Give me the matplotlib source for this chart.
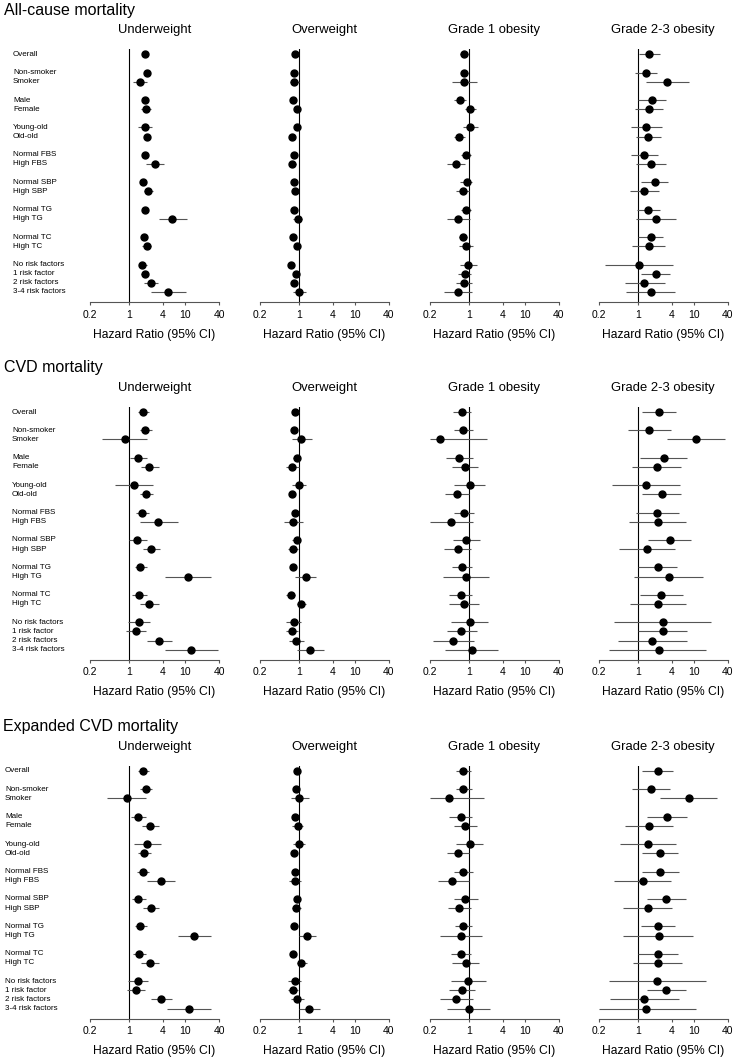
import matplotlib
matplotlib.use("Agg")
import matplotlib.pyplot as plt
from matplotlib.transforms import blended_transform_factory

plt.rcParams['font.family'] = ['Liberation Sans', 'DejaVu Sans']

# row labels and their slots (blank slot between groups)
row_labels = ['Overall', 'Non-smoker', 'Smoker', 'Male', 'Female', 'Young-old', 'Old-old',
              'Normal FBS', 'High FBS', 'Normal SBP', 'High SBP', 'Normal TG', 'High TG',
              'Normal TC', 'High TC', 'No risk factors', '1 risk factor', '2 risk factors',
              '3-4 risk factors']
row_slots = [0, 2, 3, 5, 6, 8, 9, 11, 12, 14, 15, 17, 18, 20, 21, 23, 24, 25, 26]

sections = ['All-cause mortality', 'CVD mortality', 'Expanded CVD mortality']
panels = ['Underweight', 'Overweight', 'Grade 1 obesity', 'Grade 2-3 obesity']
ticks = [0.2, 1, 4, 10, 40]
tick_labels = ['0.2', '1', '4', '10', '40']

##### all-cause mortality
ac_under_hr = [1.93, 2.04, 1.53, 1.90, 2.00, 1.88, 2.09, 1.93, 2.87, 1.80, 2.21, 1.88, 5.84, 1.85, 2.06, 1.70, 1.88, 2.44, 4.96]
ac_under_lo = [1.80, 1.88, 1.16, 1.75, 1.64, 1.43, 1.92, 1.77, 1.98, 1.62, 1.85, 1.72, 3.38, 1.68, 1.70, 1.47, 1.61, 1.85, 2.44]
ac_under_hi = [2.07, 2.21, 2.06, 2.06, 2.44, 2.54, 2.28, 2.10, 4.26, 2.00, 2.68, 2.05, 10.7, 2.04, 2.50, 2.06, 2.21, 3.20, 10.2]

ac_over_hr = [0.84, 0.83, 0.83, 0.78, 0.93, 0.93, 0.75, 0.83, 0.76, 0.81, 0.85, 0.81, 0.97, 0.77, 0.93, 0.73, 0.88, 0.83, 1.01]
ac_over_lo = [0.80, 0.79, 0.69, 0.74, 0.88, 0.86, 0.71, 0.79, 0.67, 0.77, 0.80, 0.77, 0.79, 0.73, 0.86, 0.68, 0.82, 0.77, 0.78]
ac_over_hi = [0.88, 0.87, 1.00, 0.82, 0.98, 1.01, 0.79, 0.87, 0.88, 0.85, 0.90, 0.85, 1.16, 0.81, 1.00, 0.79, 0.95, 0.90, 1.33]

ac_ob1_hr = [0.83, 0.83, 0.83, 0.70, 1.03, 1.06, 0.68, 0.90, 0.59, 0.91, 0.77, 0.88, 0.65, 0.78, 0.88, 0.97, 0.84, 0.81, 0.65]
ac_ob1_lo = [0.69, 0.71, 0.49, 0.55, 0.85, 0.80, 0.55, 0.72, 0.40, 0.70, 0.59, 0.73, 0.41, 0.67, 0.67, 0.69, 0.64, 0.60, 0.36]
ac_ob1_hi = [0.95, 0.97, 1.39, 0.90, 1.35, 1.43, 0.86, 1.10, 0.85, 1.15, 0.99, 1.08, 1.04, 0.93, 1.18, 1.39, 1.10, 1.13, 1.15]

ac_ob23_hr = [1.61, 1.41, 3.29, 1.75, 1.59, 1.41, 1.53, 1.31, 1.68, 1.98, 1.30, 1.51, 2.12, 1.68, 1.55, 1.06, 2.07, 1.30, 1.68]
ac_ob23_lo = [1.06, 0.88, 1.37, 1.01, 0.88, 0.75, 0.91, 0.76, 0.92, 1.15, 0.71, 0.96, 0.93, 1.01, 0.80, 0.26, 1.16, 0.59, 0.62]
ac_ob23_hi = [2.44, 2.21, 8.13, 3.16, 2.83, 2.68, 2.61, 2.30, 3.11, 3.43, 2.40, 2.44, 4.83, 2.83, 2.99, 4.27, 3.67, 2.99, 4.63]

##### CVD mortality
cvd_under_hr = [1.75, 1.95, 0.84, 1.43, 2.30, 1.23, 2.01, 1.68, 3.33, 1.39, 2.44, 1.59, 11.1, 1.49, 2.24, 1.49, 1.31, 3.47, 12.9]
cvd_under_lo = [1.41, 1.55, 0.33, 1.04, 1.64, 0.57, 1.55, 1.31, 1.53, 1.01, 1.73, 1.25, 4.38, 1.10, 1.53, 0.97, 0.88, 2.09, 4.44]
cvd_under_hi = [2.24, 2.54, 2.06, 2.04, 3.38, 2.64, 2.68, 2.24, 7.38, 2.04, 3.57, 2.12, 28.5, 2.09, 3.38, 2.37, 2.01, 5.84, 38.0]

cvd_over_hr = [0.86, 0.83, 1.11, 0.91, 0.76, 0.99, 0.76, 0.85, 0.80, 0.91, 0.80, 0.80, 1.33, 0.71, 1.09, 0.81, 0.74, 0.90, 1.59]
cvd_over_lo = [0.74, 0.76, 0.74, 0.78, 0.59, 0.74, 0.70, 0.78, 0.55, 0.76, 0.65, 0.74, 0.87, 0.60, 0.92, 0.59, 0.58, 0.67, 0.91]
cvd_over_hi = [1.00, 0.90, 1.68, 1.05, 0.99, 1.35, 0.83, 0.93, 1.18, 1.06, 0.98, 0.87, 2.01, 0.85, 1.32, 1.10, 0.95, 1.21, 2.76]

cvd_ob1_hr = [0.76, 0.78, 0.30, 0.68, 0.85, 1.03, 0.61, 0.81, 0.48, 0.90, 0.63, 0.75, 0.90, 0.71, 0.81, 1.03, 0.73, 0.53, 1.12]
cvd_ob1_lo = [0.52, 0.54, 0.20, 0.39, 0.49, 0.55, 0.37, 0.54, 0.20, 0.52, 0.36, 0.50, 0.34, 0.44, 0.45, 0.47, 0.41, 0.23, 0.38]
cvd_ob1_hi = [1.09, 1.18, 2.12, 1.18, 1.45, 1.90, 1.00, 1.24, 1.19, 1.55, 1.09, 1.15, 2.27, 1.15, 1.49, 2.21, 1.37, 1.21, 3.29]

cvd_ob23_hr = [2.40, 1.61, 10.8, 2.87, 2.15, 1.41, 2.64, 2.18, 2.24, 3.67, 1.43, 2.24, 3.52, 2.60, 2.24, 2.75, 2.75, 1.80, 2.34]
cvd_ob23_lo = [1.19, 0.66, 3.33, 1.07, 0.80, 0.34, 1.19, 0.91, 0.69, 1.51, 0.46, 1.00, 0.84, 1.07, 0.72, 0.38, 1.00, 0.45, 0.31]
cvd_ob23_hi = [4.76, 3.88, 36.0, 7.67, 5.77, 5.69, 5.92, 5.31, 7.30, 8.93, 4.57, 5.03, 14.8, 6.34, 7.07, 20.0, 7.50, 7.40, 16.4]

##### expanded CVD mortality
ex_under_hr = [1.78, 1.98, 0.90, 1.45, 2.37, 2.09, 1.85, 1.73, 3.67, 1.45, 2.44, 1.59, 14.2, 1.51, 2.33, 1.45, 1.31, 3.72, 11.6]
ex_under_lo = [1.45, 1.57, 0.41, 1.09, 1.70, 1.21, 1.45, 1.37, 2.06, 1.10, 1.80, 1.28, 7.30, 1.15, 1.64, 0.97, 0.92, 2.44, 4.69]
ex_under_hi = [2.24, 2.54, 2.01, 2.01, 3.43, 3.62, 2.44, 2.24, 6.61, 2.01, 3.43, 2.06, 28.5, 2.01, 3.43, 2.21, 1.95, 5.77, 28.5]

ex_over_hr = [0.91, 0.88, 1.01, 0.87, 0.95, 1.00, 0.81, 0.87, 0.86, 0.92, 0.90, 0.83, 1.37, 0.78, 1.10, 0.84, 0.78, 0.92, 1.53]
ex_over_lo = [0.84, 0.81, 0.71, 0.80, 0.76, 0.78, 0.75, 0.80, 0.66, 0.84, 0.76, 0.77, 0.99, 0.72, 0.94, 0.65, 0.63, 0.72, 0.99]
ex_over_hi = [0.98, 0.95, 1.53, 0.94, 1.18, 1.30, 0.88, 0.94, 1.10, 1.00, 1.07, 0.90, 2.04, 0.85, 1.38, 1.10, 0.98, 1.22, 2.40]

ex_ob1_hr = [0.77, 0.79, 0.45, 0.71, 0.86, 1.03, 0.63, 0.80, 0.51, 0.87, 0.68, 0.79, 0.71, 0.71, 0.88, 0.96, 0.75, 0.60, 0.99]
ex_ob1_lo = [0.58, 0.58, 0.20, 0.44, 0.54, 0.60, 0.40, 0.54, 0.28, 0.55, 0.43, 0.57, 0.30, 0.47, 0.50, 0.47, 0.44, 0.30, 0.41]
ex_ob1_hi = [1.07, 1.15, 1.85, 1.15, 1.37, 1.75, 1.00, 1.19, 1.00, 1.43, 1.11, 1.15, 1.68, 1.09, 1.49, 2.01, 1.30, 1.18, 2.40]

ex_ob23_hr = [2.27, 1.68, 8.00, 3.29, 1.57, 1.51, 2.43, 2.50, 1.21, 3.20, 1.51, 2.27, 2.34, 2.30, 2.24, 2.21, 3.20, 1.31, 1.41]
ex_ob23_lo = [1.19, 0.80, 2.47, 1.47, 0.59, 0.47, 1.18, 1.19, 0.38, 1.45, 0.55, 1.13, 0.55, 1.01, 0.83, 0.31, 1.45, 0.32, 0.20]
ex_ob23_hi = [4.27, 3.67, 26.0, 7.60, 4.27, 4.83, 5.17, 5.39, 3.88, 7.30, 4.10, 4.63, 9.70, 5.24, 6.17, 16.1, 7.30, 5.39, 10.7]

data = [
    [(ac_under_hr, ac_under_lo, ac_under_hi), (ac_over_hr, ac_over_lo, ac_over_hi),
     (ac_ob1_hr, ac_ob1_lo, ac_ob1_hi), (ac_ob23_hr, ac_ob23_lo, ac_ob23_hi)],
    [(cvd_under_hr, cvd_under_lo, cvd_under_hi), (cvd_over_hr, cvd_over_lo, cvd_over_hi),
     (cvd_ob1_hr, cvd_ob1_lo, cvd_ob1_hi), (cvd_ob23_hr, cvd_ob23_lo, cvd_ob23_hi)],
    [(ex_under_hr, ex_under_lo, ex_under_hi), (ex_over_hr, ex_over_lo, ex_over_hi),
     (ex_ob1_hr, ex_ob1_lo, ex_ob1_hi), (ex_ob23_hr, ex_ob23_lo, ex_ob23_hi)],
]

W, H = 736, 1061
fig = plt.figure(figsize=(W / 100, H / 100), dpi=100)

# layout in pixels
row0_px = [54.3, 412.0, 771.0]
label_x_px = [13, 12, 5]
title_x_px = [4, 4, 3]
panel_left_px = [90, 259.7, 429.7, 598.7]
panel_w_px = 129
row_step = 9.14

for s in range(3):
    top = row0_px[s] - 5.3
    bot = row0_px[s] + 26 * row_step + 10
    fig.text(title_x_px[s] / W, 1 - (row0_px[s] - 44) / H, sections[s],
             fontsize=11.5, ha='left', va='center')
    for p in range(4):
        hr, lo, hi = data[s][p]
        ax = fig.add_axes([panel_left_px[p] / W, 1 - bot / H, panel_w_px / W, (bot - top) / H])
        ax.set_xscale('log')
        ax.set_xlim(0.2, 40)
        ax.set_ylim(26 + 10 / row_step, -5.3 / row_step)
        ax.axvline(1, color='black', lw=0.8, zorder=1)
        ax.hlines(row_slots, lo, hi, color='#555555', lw=0.8, zorder=2)
        ax.plot(hr, row_slots, 'o', color='black', ms=5, zorder=3)
        for side in ['top', 'left', 'right']:
            ax.spines[side].set_visible(False)
        ax.spines['bottom'].set_color('#555555')
        ax.spines['bottom'].set_linewidth(0.8)
        ax.set_yticks([])
        ax.set_xticks(ticks)
        ax.set_xticklabels(tick_labels)
        ax.minorticks_off()
        ax.tick_params(axis='x', length=2.5, width=0.8, color='#555555', labelsize=7.5, pad=3)
        ax.set_xlabel('Hazard Ratio (95% CI)', fontsize=8.7, labelpad=6.5)
        ax.text(0.5, 1 - (row0_px[s] - 24) / H, panels[p], fontsize=9.4, ha='center', va='center',
                transform=blended_transform_factory(ax.transAxes, fig.transFigure))
        if p == 0:
            tr = blended_transform_factory(fig.transFigure, ax.transData)
            for lab, y in zip(row_labels, row_slots):
                ax.text(label_x_px[s] / W, y, lab, fontsize=5.8, ha='left', va='center', transform=tr)

fig.savefig('out.png', dpi=100)
